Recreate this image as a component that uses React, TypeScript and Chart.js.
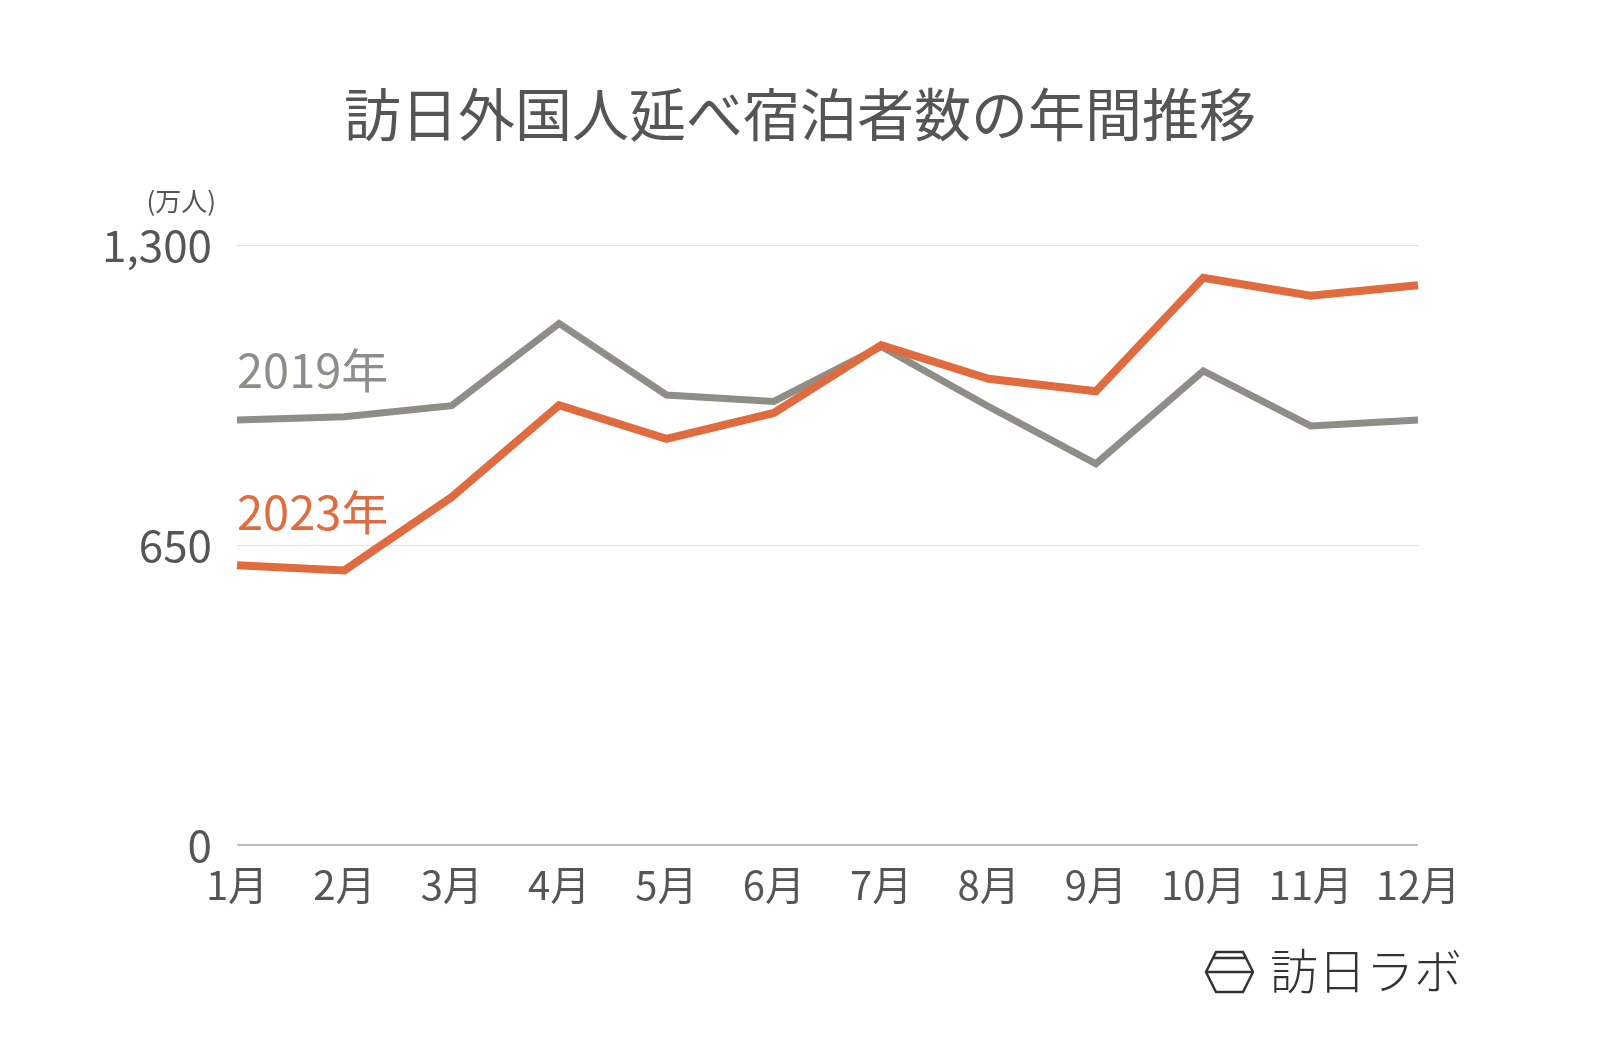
import React, { useEffect, useRef } from "react";
import { Chart, registerables } from "chart.js";

Chart.register(...registerables);

const TITLE = "訪日外国人延べ宿泊者数の年間推移";
const UNIT = "(万人)";
const MONTHS = ["1月", "2月", "3月", "4月", "5月", "6月", "7月", "8月", "9月", "10月", "11月", "12月"];
const SERIES_2019_LABEL = "2019年";
const SERIES_2023_LABEL = "2023年";
const VALUES_2019 = [921, 928, 952, 1130, 975, 961, 1080, 950, 826, 1027, 908, 921];
const VALUES_2023 = [606, 595, 754, 953, 880, 936, 1083, 1010, 983, 1229, 1190, 1213];
const Y_MIN = 0;
const Y_MAX = 1300;
const Y_STEP = 650;
const BRAND = "訪日ラボ";

const GRAY = "#8e8d86";
const ORANGE = "#e06b3f";
const TEXT = "#555555";
const FONT = '"Noto Sans CJK JP", "Noto Sans", sans-serif';

const decorPlugin = {
  id: "decor",
  afterDraw(chart: any) {
    const { ctx, chartArea } = chart;
    ctx.save();
    // Title
    ctx.fillStyle = TEXT;
    ctx.font = `57px ${FONT}`;
    ctx.textAlign = "center";
    ctx.textBaseline = "middle";
    ctx.fillText(TITLE, 800, 114);
    // Unit
    ctx.font = `26px ${FONT}`;
    ctx.textAlign = "right";
    ctx.fillText(UNIT, 216, 201);
    // Series labels
    ctx.textAlign = "left";
    ctx.textBaseline = "alphabetic";
    ctx.font = `47px ${FONT}`;
    ctx.fillStyle = GRAY;
    ctx.fillText(SERIES_2019_LABEL, chartArea.left, 388);
    ctx.fillStyle = ORANGE;
    ctx.fillText(SERIES_2023_LABEL, chartArea.left, 530);
    // Brand logo
    ctx.strokeStyle = "#333";
    ctx.lineWidth = 2.5;
    ctx.lineJoin = "miter";
    ctx.beginPath();
    ctx.moveTo(1206, 972);
    ctx.lineTo(1216, 952);
    ctx.lineTo(1243, 952);
    ctx.lineTo(1253, 972);
    ctx.lineTo(1243, 992);
    ctx.lineTo(1216, 992);
    ctx.closePath();
    ctx.stroke();
    ctx.beginPath();
    ctx.moveTo(1213, 958);
    ctx.lineTo(1246, 958);
    ctx.moveTo(1206, 972);
    ctx.lineTo(1253, 972);
    ctx.stroke();
    ctx.fillStyle = "#333";
    ctx.font = `300 48px ${FONT}`;
    ctx.textAlign = "left";
    ctx.textBaseline = "middle";
    ctx.fillText(BRAND, 1270, 971);
    ctx.restore();
  },
};

export default function App() {
  const ref = useRef<HTMLCanvasElement | null>(null);
  useEffect(() => {
    if (!ref.current) return;
    const chart = new Chart(ref.current, {
      type: "line",
      data: {
        labels: MONTHS,
        datasets: [
          {
            label: SERIES_2023_LABEL,
            data: VALUES_2023,
            borderColor: ORANGE,
            backgroundColor: ORANGE,
            borderWidth: 8,
            pointRadius: 0,
            tension: 0,
            borderJoinStyle: "miter",
          },
          {
            label: SERIES_2019_LABEL,
            data: VALUES_2019,
            borderColor: GRAY,
            backgroundColor: GRAY,
            borderWidth: 7,
            pointRadius: 0,
            tension: 0,
            borderJoinStyle: "miter",
          },
        ],
      },
      options: {
        animation: false,
        responsive: false,
        devicePixelRatio: 1,
        layout: { padding: { left: 0, right: 182, top: 245, bottom: 0 } },
        plugins: {
          legend: { display: false },
          title: { display: false },
          tooltip: { enabled: false },
        },
        scales: {
          x: {
            offset: false,
            grid: { display: false, drawTicks: false },
            border: { display: false },
            ticks: {
              color: TEXT,
              font: { family: FONT, size: 40 },
              padding: 16,
              maxRotation: 0,
              autoSkip: false,
            },
            afterFit(scale: any) {
              scale.height = 203;
            },
          },
          y: {
            min: Y_MIN,
            max: Y_MAX,
            grid: {
              drawTicks: false,
              color: (c: any) => (c.tick && c.tick.value === 0 ? "#bdbdbd" : "#e2e2e2"),
              lineWidth: (c: any) => (c.tick && c.tick.value === 0 ? 2 : 1),
            },
            border: { display: false },
            ticks: {
              stepSize: Y_STEP,
              color: TEXT,
              font: { family: FONT, size: 44 },
              padding: 25,
              callback: (v: any) => Number(v).toLocaleString("en-US"),
            },
            afterFit(scale: any) {
              scale.width = 237;
            },
          },
        },
      },
      plugins: [decorPlugin],
    });
    return () => chart.destroy();
  }, []);
  return (
    <div style={{ position: "absolute", left: 0, top: 0, width: 1600, height: 1048, background: "#fff" }}>
      <canvas ref={ref} width={1600} height={1048} style={{ width: 1600, height: 1048 }} />
    </div>
  );
}
